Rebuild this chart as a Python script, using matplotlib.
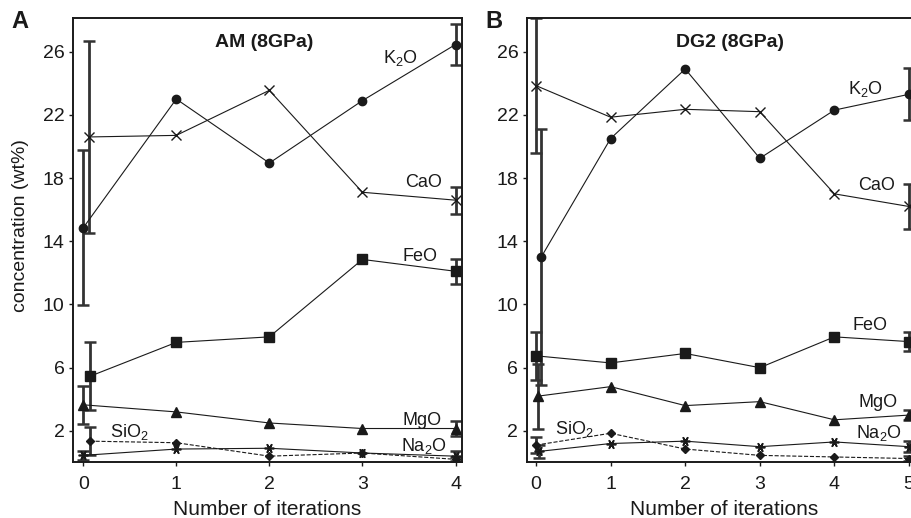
import matplotlib
matplotlib.use("Agg")
import matplotlib.pyplot as plt

plt.rcParams['font.family'] = ['Liberation Sans', 'DejaVu Sans']
plt.rcParams['mathtext.fontset'] = 'custom'
plt.rcParams['mathtext.rm'] = 'Liberation Sans'
plt.rcParams['mathtext.default'] = 'regular'

# ---- Panel A: AM (8GPa) ----
a_iter = [0, 1, 2, 3, 4]
a_k2o = [14.85, 23.0, 18.95, 22.9, 26.45]
a_k2o_err = [4.9, 0, 0, 0, 1.3]
a_cao = [20.6, 20.7, 23.55, 17.1, 16.6]
a_cao_err = [6.05, 0, 0, 0, 0.85]
a_feo = [5.45, 7.6, 7.95, 12.85, 12.1]
a_feo_err = [2.15, 0, 0, 0, 0.8]
a_mgo = [3.65, 3.2, 2.5, 2.15, 2.15]
a_mgo_err = [1.2, 0, 0, 0, 0.45]
a_sio2 = [1.35, 1.25, 0.4, 0.6, 0.2]
a_sio2_err = [0.9, 0, 0, 0, 0.15]
a_na2o = [0.45, 0.85, 0.9, 0.6, 0.4]
a_na2o_err = [0.3, 0, 0, 0, 0.3]

# ---- Panel B: DG2 (8GPa) ----
b_iter = [0, 1, 2, 3, 4, 5]
b_k2o = [13.0, 20.5, 24.9, 19.25, 22.3, 23.3]
b_k2o_err = [8.1, 0, 0, 0, 0, 1.65]
b_cao = [23.85, 21.85, 22.35, 22.2, 17.0, 16.2]
b_cao_err = [4.25, 0, 0, 0, 0, 1.45]
b_feo = [6.75, 6.3, 6.9, 6.0, 7.95, 7.65]
b_feo_err = [1.5, 0, 0, 0, 0, 0.6]
b_mgo = [4.2, 4.8, 3.6, 3.85, 2.7, 3.0]
b_mgo_err = [2.05, 0, 0, 0, 0, 0.3]
b_sio2 = [1.1, 1.85, 0.85, 0.45, 0.35, 0.25]
b_sio2_err = [0.5, 0, 0, 0, 0, 0.15]
b_na2o = [0.7, 1.2, 1.35, 1.0, 1.3, 1.0]
b_na2o_err = [0.4, 0, 0, 0, 0, 0.35]

# small horizontal offsets of the first point, as in the original
a_shift = {'K2O': 0.0, 'CaO': 0.06, 'FeO': 0.07, 'MgO': 0.0, 'SiO2': 0.07, 'Na2O': 0.0}
b_shift = {'K2O': 0.07, 'CaO': 0.0, 'FeO': 0.0, 'MgO': 0.03, 'SiO2': 0.0, 'Na2O': 0.04}

styles = {
    'K2O': dict(marker='o', ms=6, ls='-'),
    'CaO': dict(marker='x', ms=7, ls='-', mew=1.0),
    'FeO': dict(marker='s', ms=7, ls='-'),
    'MgO': dict(marker='^', ms=7, ls='-'),
    'SiO2': dict(marker='D', ms=4.5, ls='--'),
    'Na2O': dict(marker=(6, 2, 90), ms=7, ls='-', mew=1.2),
}

ink = '#1a1a1a'
bar = '#333333'


def draw(ax, iters, series, shifts):
    for name, vals, errs in series:
        xs = [x + (shifts[name] if i == 0 else 0) for i, x in enumerate(iters)]
        ax.plot(xs, vals, color=ink, lw=0.8, mfc=ink, mec=ink, zorder=3,
                **styles[name])
        ex = [x for x, e in zip(xs, errs) if e > 0]
        ey = [v for v, e in zip(vals, errs) if e > 0]
        ee = [e for e in errs if e > 0]
        ax.errorbar(ex, ey, yerr=ee, fmt='none', ecolor=bar, elinewidth=2,
                    capsize=4, capthick=1.8, zorder=2)


fig = plt.figure(figsize=(9.12, 5.18), dpi=100)
axA = fig.add_axes([0.080, 0.1087, 0.4266, 0.8566])
axB = fig.add_axes([0.5775, 0.1087, 0.4319, 0.8566])

draw(axA, a_iter, [('K2O', a_k2o, a_k2o_err), ('CaO', a_cao, a_cao_err),
                   ('FeO', a_feo, a_feo_err), ('MgO', a_mgo, a_mgo_err),
                   ('SiO2', a_sio2, a_sio2_err), ('Na2O', a_na2o, a_na2o_err)], a_shift)
draw(axB, b_iter, [('K2O', b_k2o, b_k2o_err), ('CaO', b_cao, b_cao_err),
                   ('FeO', b_feo, b_feo_err), ('MgO', b_mgo, b_mgo_err),
                   ('SiO2', b_sio2, b_sio2_err), ('Na2O', b_na2o, b_na2o_err)], b_shift)

axA.set_xlim(-0.11, 4.07)
axB.set_xlim(-0.125, 5.155)
for ax, ticks in ((axA, range(5)), (axB, range(6))):
    ax.set_ylim(0.05, 28.13)
    ax.set_yticks([2, 6, 10, 14, 18, 22, 26])
    ax.set_xticks(list(ticks))
    ax.tick_params(axis='both', direction='out', labelsize=14, colors=ink,
                   length=3, width=1, pad=3)
    ax.tick_params(axis='x', pad=7)
    for s in ax.spines.values():
        s.set_linewidth(1.4)
        s.set_color(ink)
    ax.set_xlabel('Number of iterations', fontsize=15, color=ink, labelpad=5)

axA.set_ylabel('concentration (wt%)', fontsize=14, color=ink)
axA.yaxis.set_label_coords(-0.112, 0.533)

lab = dict(fontsize=13, color=ink, ha='center', va='center')
axA.text(1.94, 26.6, 'AM (8GPa)', fontsize=14, fontweight='bold', ha='center', va='center', color=ink)
axA.text(3.41, 25.6, r'K$_2$O', **lab)
axA.text(3.66, 17.7, 'CaO', **lab)
axA.text(3.62, 13.06, 'FeO', **lab)
axA.text(3.64, 2.65, 'MgO', **lab)
axA.text(3.66, 1.07, r'Na$_2$O', **lab)
axA.text(0.5, 1.96, r'SiO$_2$', **lab)

axB.text(2.6, 26.57, 'DG2 (8GPa)', fontsize=14, fontweight='bold', ha='center', va='center', color=ink)
axB.text(4.41, 23.65, r'K$_2$O', **lab)
axB.text(4.57, 17.52, 'CaO', **lab)
axB.text(4.48, 8.65, 'FeO', **lab)
axB.text(4.59, 3.79, 'MgO', **lab)
axB.text(4.59, 1.85, r'Na$_2$O', **lab)
axB.text(0.52, 2.1, r'SiO$_2$', **lab)

fig.text(0.013, 0.958, 'A', fontsize=17, fontweight='bold', color=ink, va='center')
fig.text(0.532, 0.958, 'B', fontsize=17, fontweight='bold', color=ink, va='center')

fig.savefig('out.png', dpi=100)
